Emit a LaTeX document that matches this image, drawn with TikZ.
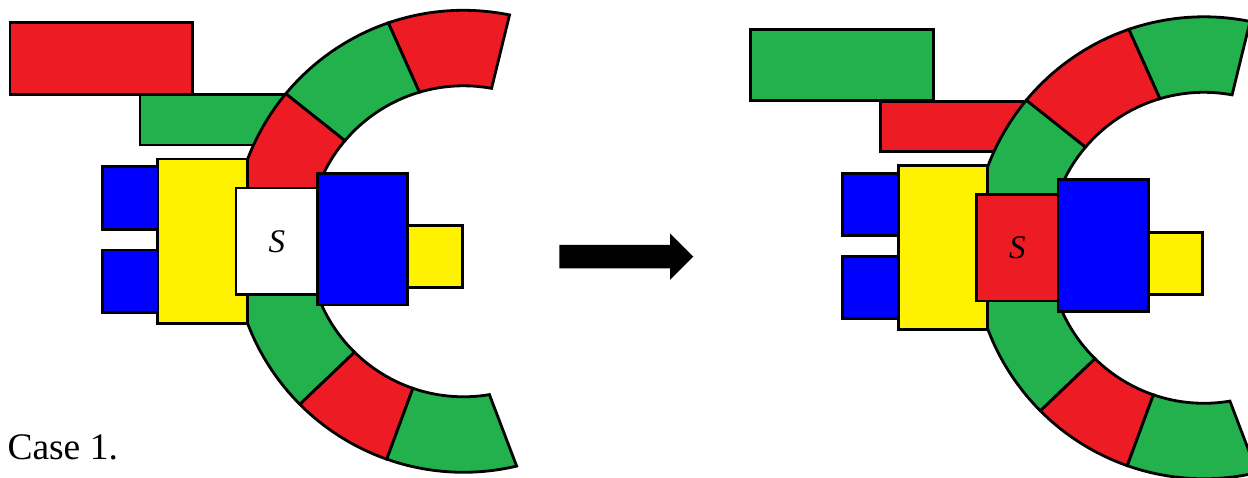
\documentclass[tikz,border=0pt]{standalone}
\usepackage{fontspec}
\setmainfont{Liberation Serif}
\newfontfamily\labelserif{Liberation Serif}
\definecolor{pred}{HTML}{ED1C24}
\definecolor{pgreen}{HTML}{22B14C}
\definecolor{pblue}{HTML}{0000FF}
\definecolor{pyellow}{HTML}{FFF200}

% one segment of the C-shaped ring: outer start, inner start, outer end, inner end, fill
\newcommand\ringpart[5]{%
  \filldraw[block, fill=#5] (#1:231pt) arc[start angle=#1, end angle=#3, radius=231pt]
    -- (#4:155.5pt) arc[start angle=#4, end angle=#2, radius=155.5pt] -- cycle;}

% whole assembly: #1 top bar, #2 lower bar, #3-#8 ring segments (top to bottom), #9 centre block
\newcommand\assembly[9]{%
  \filldraw[block, fill=#1] (10,455.3) rectangle (192.7,383.7);
  \filldraw[block, fill=#2] (140,383.3) rectangle (320,333);
  \begin{scope}[shift={(463.5,236.7)}]
    \ringpart{78.5}{79.6}{109}{106.5}{#3}
    \ringpart{109}{106.5}{140.3}{139.7}{#4}
    \ringpart{140.3}{139.7}{180}{180}{#5}
    \ringpart{180}{180}{224.9}{225.5}{#6}
    \ringpart{224.9}{225.5}{250.6}{251}{#7}
    \ringpart{250.6}{251}{283.3}{279.6}{#8}
  \end{scope}
  \filldraw[block, fill=pyellow] (157.7,319) rectangle (247.3,154.7);
  \filldraw[block, fill=pblue] (102.3,311.3) rectangle (158,248.7);
  \filldraw[block, fill=pblue] (102.3,228) rectangle (158,165.7);
  \node[sblock, fill=#9] (sbox) at (276.75,236.75) {S};
  \filldraw[block, fill=pblue] (317.5,304.7) rectangle (407.7,173);
  \filldraw[block, fill=pyellow] (407.7,252.3) rectangle (462.3,190.3);
}

\begin{document}
\begin{tikzpicture}[x=1pt, y=1pt,
  block/.style={draw=black, line width=2.8pt},
  sblock/.style={draw=black, line width=2.8pt, minimum width=81.5pt,
    minimum height=106.5pt, inner sep=0pt,
    font=\labelserif\fontsize{33}{33}\selectfont\itshape}]
\useasboundingbox (0,0) rectangle (1248,478);
\clip (0,0) rectangle (1248,478);

% before
\begin{scope}[name prefix=L-]
  \assembly{pred}{pgreen}{pred}{pgreen}{pred}{pgreen}{pred}{pgreen}{white}
\end{scope}

% after
\begin{scope}[shift={(740.5,-6.5)}, name prefix=R-]
  \assembly{pgreen}{pred}{pgreen}{pred}{pgreen}{pgreen}{pred}{pgreen}{pred}
\end{scope}

% transition arrow
\fill[black] (559.3,233) -- (670,233) -- (670,244.7) -- (693.3,221.4)
  -- (670,198) -- (670,209.7) -- (559.3,209.7) -- cycle;

\node[anchor=base west, inner sep=0pt, font=\labelserif\fontsize{37.5}{40}\selectfont]
  (caption) at (7.3,18) {Case 1.};
\end{tikzpicture}
\end{document}
